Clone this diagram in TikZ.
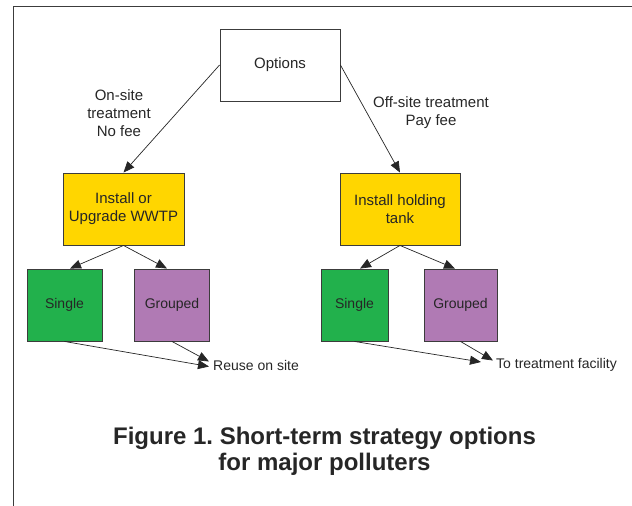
\documentclass[tikz,border=0pt]{standalone}
\usepackage{fontspec}
\setmainfont{Liberation Sans}
\usetikzlibrary{arrows.meta,calc}
\definecolor{boxyellow}{RGB}{255,214,0}
\definecolor{boxgreen}{RGB}{34,177,76}
\definecolor{boxpurple}{RGB}{176,122,180}
\definecolor{edgegray}{RGB}{60,60,60}
\frenchspacing
\begin{document}
\begin{tikzpicture}[x=1pt,y=-1pt,
  box/.style={draw=edgegray,line width=0.9pt,inner sep=0pt,align=center,
    font=\fontsize{15}{18}\selectfont,text=black!85},
  smallbox/.style={box,font=\fontsize{14}{17}\selectfont},
  lbl/.style={align=center,inner sep=0pt,font=\fontsize{15}{18}\selectfont,text=black!85},
  conn/.style={draw=black!85,line width=0.7pt,-{Triangle[length=11pt,width=9pt]}}]
\useasboundingbox (0,0) rectangle (632,506);
\draw[edgegray,line width=1.4pt] (13.5,506) -- (13.5,6.5) -- (632,6.5);
% nodes
\node[box,fill=white,minimum width=120,minimum height=72] (options) at (280,65) {Options};
\node[box,fill=boxyellow,minimum width=121,minimum height=72] (wwtp) at (123.5,209) {Install or\\Upgrade WWTP};
\node[box,fill=boxyellow,minimum width=120,minimum height=72] (tank) at (400,209) {Install holding\\tank};
\node[smallbox,fill=boxgreen,minimum width=75,minimum height=72] (s1) at (64.5,305) {Single};
\node[smallbox,fill=boxpurple,minimum width=75,minimum height=72] (g1) at (172,305) {Grouped};
\node[smallbox,fill=boxgreen,minimum width=67,minimum height=72] (s2) at (354.5,305) {Single};
\node[smallbox,fill=boxpurple,minimum width=73,minimum height=72] (g2) at (460.5,305) {Grouped};
\node[lbl,anchor=west,font=\fontsize{14}{17}\selectfont] (reuse) at (213,365) {Reuse on site};
\node[lbl,anchor=west,font=\fontsize{14}{17}\selectfont] (facility) at (496,365) {To treatment facility};
\node[lbl] (onsite) at (119,113) {On-site\\treatment\\No fee};
\node[lbl] (offsite) at (431,113) {Off-site treatment\\Pay fee};
\node[align=center,inner sep=0pt,font=\fontsize{24}{26}\bfseries\selectfont,text=black!85] (title) at (324.5,451) {Figure 1. Short-term strategy options\\for major polluters};
% connector end points
\coordinate (r1) at ($(reuse.west)+(-4,1.5)$);
\coordinate (r2) at ($(reuse.west)+(-4,-3.5)$);
\coordinate (f1) at ($(facility.west)+(-15,-3)$);
\coordinate (f2) at ($(facility.west)+(-3,-4.5)$);
% connectors
\draw[conn] (options.west) -- (wwtp.north);
\draw[conn] (options.east) -- (tank.north);
\draw[conn] (wwtp.south) -- ($(s1.north)+(5.5,0)$);
\draw[conn] (wwtp.south) -- ($(g1.north)+(-5,0)$);
\draw[conn] (tank.south) -- ($(s2.north)+(5.5,0)$);
\draw[conn] (tank.south) -- ($(g2.north)+(-5.5,0)$);
\draw[conn] (s1.south) -- (r1);
\draw[conn] (g1.south) -- (r2);
\draw[conn] (s2.south) -- (f1);
\draw[conn] (g2.south) -- (f2);
\end{tikzpicture}
\end{document}
